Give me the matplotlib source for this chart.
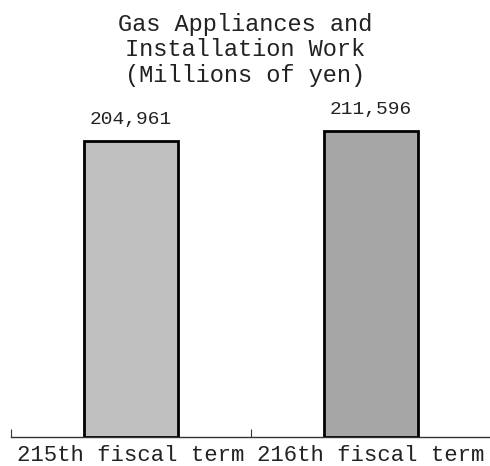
import matplotlib
matplotlib.use("Agg")
import matplotlib.pyplot as plt

categories = ["215th fiscal term", "216th fiscal term"]
values = [204961, 211596]
labels = ["204,961", "211,596"]
colors = ["#c0c0c0", "#a6a6a6"]

W, H = 490, 466
fig = plt.figure(figsize=(W / 100, H / 100), dpi=100)
plt.rcParams['font.family'] = ['Liberation Mono', 'DejaVu Sans']

# axes: left 11px, right 491px, bottom at y=437, top at y=95
left, right = 11, 491
bottom_px, top_px = 437, 95
ax = fig.add_axes([left / W, (H - bottom_px) / H, (right - left) / W, (bottom_px - top_px) / H])

x = list(range(len(categories)))
ax.bar(x, values, width=0.39, color=colors, edgecolor="black", linewidth=2, zorder=3)
ax.set_xlim(-0.5, len(categories) - 0.5)
per_px = values[0] / (bottom_px - 141)
ax.set_ylim(0, per_px * (bottom_px - top_px))

for xi, v, lab in zip(x, values, labels):
    ax.annotate(lab, (xi, v), xytext=(0, 13), textcoords="offset pixels",
                ha="center", va="bottom", fontsize=14, color="#222222")

for s in ["top", "right", "left"]:
    ax.spines[s].set_visible(False)
ax.spines["bottom"].set_color("#333333")
ax.spines["bottom"].set_linewidth(1)
ax.set_yticks([])
ax.set_xticks([-0.5, 0.5, 1.5])
ax.set_xticklabels([])
ax.set_xticks(x, minor=True)
ax.set_xticklabels(categories, minor=True, fontsize=16, color="#222222")
ax.tick_params(axis="x", which="major", direction="in", length=6, color="#333333")
ax.tick_params(axis="x", which="minor", length=0, pad=6)

fig.text(0.5, 1 - 50 / H, "Gas Appliances and\nInstallation Work\n(Millions of yen)",
         ha="center", va="center", fontsize=17, linespacing=1.12, color="#222222")

fig.savefig("out.png", dpi=100)
